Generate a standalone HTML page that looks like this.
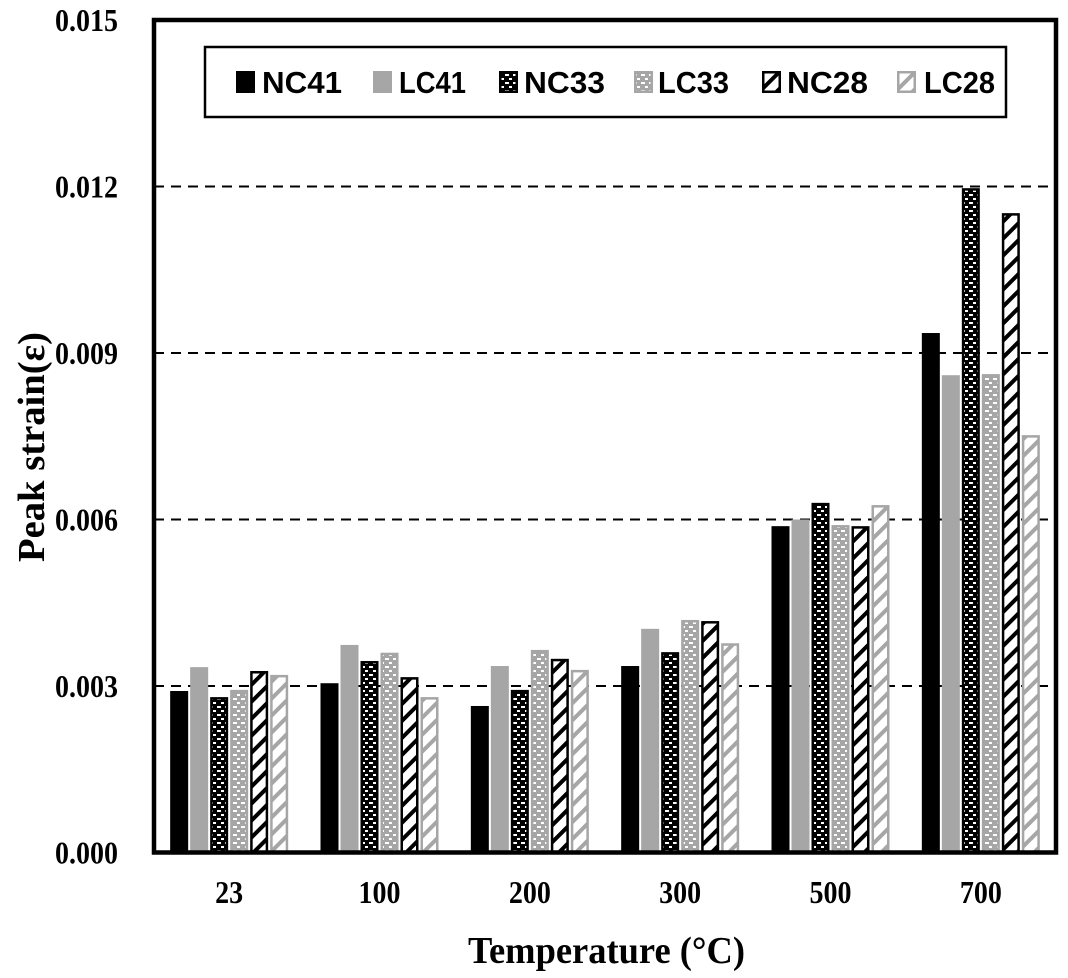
<!DOCTYPE html>
<html><head><meta charset="utf-8"><style>
body{margin:0;background:#fff;}
svg{display:block;}
.tick{font-family:"Liberation Serif",serif;font-weight:bold;font-size:32px;}
.leg{font-family:"Liberation Sans",sans-serif;font-weight:bold;font-size:31px;}
.title{font-family:"Liberation Serif",serif;font-weight:bold;font-size:38px;}
</style></head><body>
<svg id="chart" width="1068" height="978" viewBox="0 0 1068 978">
<defs>
<pattern id="pNC33" width="8" height="8" patternUnits="userSpaceOnUse"><rect width="8" height="8" fill="#000"/><rect x="1" y="2" width="4" height="2" fill="#fff"/><rect x="5" y="6" width="3" height="2" fill="#fff"/></pattern>
<pattern id="pLC33" width="8" height="8" patternUnits="userSpaceOnUse"><rect width="8" height="8" fill="#a6a6a6"/><rect x="1" y="2" width="4" height="2" fill="#fff"/><rect x="5" y="6" width="3" height="2" fill="#fff"/></pattern>
<pattern id="pNC28" width="12" height="12" patternUnits="userSpaceOnUse" patternTransform="rotate(45)"><rect width="12" height="12" fill="#fff"/><rect width="4" height="12" fill="#000"/></pattern>
<pattern id="pLC28" width="12" height="12" patternUnits="userSpaceOnUse" patternTransform="rotate(45)"><rect width="12" height="12" fill="#fff"/><rect width="4" height="12" fill="#a6a6a6"/></pattern>
</defs>
<g id="grid"></g>
<g id="bars"></g>
<g id="axes"></g>
<rect x="205" y="47" width="801" height="70" fill="#fff" stroke="#000" stroke-width="2.5"/>
<g id="legend"></g>
<text class="title" x="468" y="963" textLength="277" lengthAdjust="spacingAndGlyphs">Temperature (°C)</text>
<text class="title" x="0" y="0" text-anchor="middle" textLength="230" lengthAdjust="spacingAndGlyphs" transform="translate(44,447) rotate(-90)">Peak strain(ε)</text>
</svg>
<script>
const categories=["23","100","200","300","500","700"];
const seriesNames=["NC41","LC41","NC33","LC33","NC28","LC28"];
const NC41=[0.00291,0.00305,0.00264,0.00336,0.00588,0.00936];
const LC41=[0.00334,0.00374,0.00336,0.00403,0.00600,0.00860];
const NC33=[0.00280,0.00345,0.00293,0.00361,0.00630,0.01197];
const LC33=[0.00293,0.00360,0.00365,0.00419,0.00590,0.00862];
const NC28=[0.00327,0.00316,0.00349,0.00417,0.00588,0.01152];
const LC28=[0.00320,0.00280,0.00329,0.00377,0.00626,0.00752];
const yTicks=[0,0.003,0.006,0.009,0.012,0.015];
const yTickLabels=["0.000","0.003","0.006","0.009","0.012","0.015"];
const series=[NC41,LC41,NC33,LC33,NC28,LC28];
const fills=["#000","#a6a6a6","url(#pNC33)","url(#pLC33)","url(#pNC28)","url(#pLC28)"];
const strokes=["none","none","#000","#a6a6a6","#000","#a6a6a6"];
const NS="http://www.w3.org/2000/svg";
const L=154,R=1056,T=20,B=852.5;
function yS(v){return B-(v/0.015)*(B-T);}
const gw=(R-L)/categories.length;
function xG(i){return L+gw*(i+0.5);}
function mk(tag,attrs,parent){const e=document.createElementNS(NS,tag);for(const k in attrs)e.setAttribute(k,attrs[k]);document.getElementById(parent).appendChild(e);return e;}
yTicks.forEach((t,i)=>{
  if(t>0&&t<0.015){const g=mk('line',{x1:L,x2:R,y1:yS(t),y2:yS(t),stroke:'#000','stroke-width':2,'stroke-dasharray':'10 7'},'grid');
  
  }
  const tx=mk('text',{x:55,y:yS(t)+11,class:'tick',textLength:63,lengthAdjust:'spacingAndGlyphs'},'axes');tx.textContent=yTickLabels[i];
  
  
});
const bw=18,pitch=20;
categories.forEach((c,i)=>{
  series.forEach((s,j)=>{
    const x=xG(i)-60+j*pitch+1;
    const y=yS(s[i]);
    const sw=strokes[j]==="none"?0:2.5;
    const r=mk('rect',{x:x+sw/2,y:y+sw/2,width:bw-sw,height:B-y-sw/2,fill:fills[j],stroke:strokes[j],'stroke-width':sw},'bars');
    
    
  });
  const tx=mk('text',{x:xG(i),y:903,'text-anchor':'middle',class:'tick',textLength:c.length*14,lengthAdjust:'spacingAndGlyphs'},'axes');tx.textContent=c;
  
  
});
const fr=mk('rect',{x:L,y:T,width:R-L,height:B-T,fill:'none',stroke:'#000','stroke-width':4.5},'axes');


const legX=[236,373,499,634,762,897];
const legTX=[262,399,524,658,787,924];
const legTW=[80,67,81,71,81,71];
seriesNames.forEach((n,j)=>{
  const sw=strokes[j]==="none"?0:2.5;
  const m=mk('rect',{x:legX[j]+sw/2,y:71+sw/2,width:19-sw,height:22-sw,fill:fills[j],stroke:strokes[j],'stroke-width':sw},'legend');
  
  
  const t=mk('text',{x:legTX[j],y:93,class:'leg',textLength:legTW[j],lengthAdjust:'spacingAndGlyphs'},'legend');t.textContent=n;
  
  
});
</script>
</body></html>
